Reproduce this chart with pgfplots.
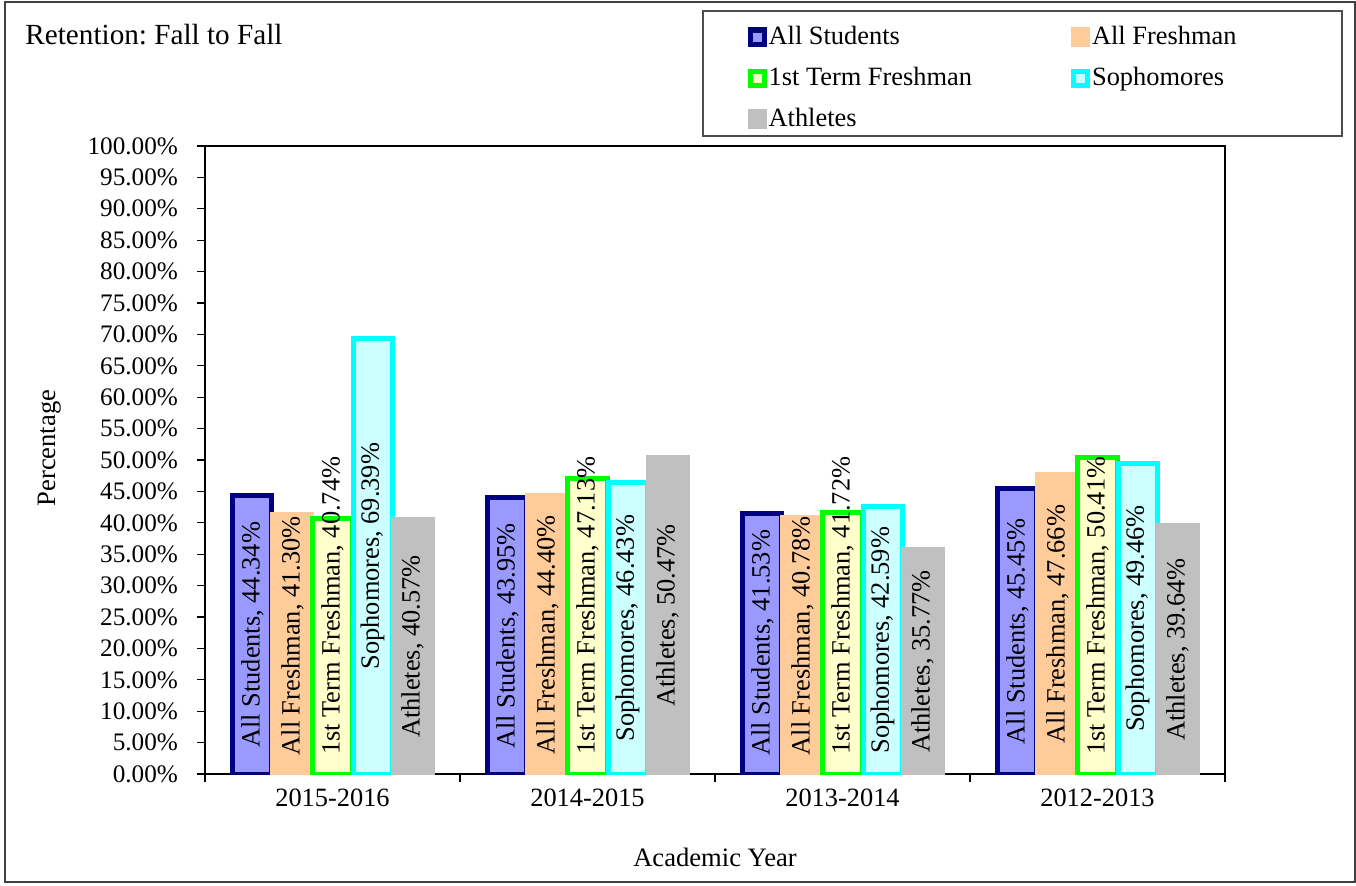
\documentclass[border=0pt]{standalone}
\usepackage{fontspec}
\setmainfont{Liberation Serif}
\usepackage{pgfplots}
\pgfplotsset{compat=1.18}
\frenchspacing
\definecolor{cNavy}{HTML}{000080}
\definecolor{cBlueFill}{HTML}{9999FF}
\definecolor{cPeach}{HTML}{FFCC99}
\definecolor{cGreen}{HTML}{00FF00}
\definecolor{cYellowFill}{HTML}{FFFFCC}
\definecolor{cCyan}{HTML}{00FFFF}
\definecolor{cCyanFill}{HTML}{CCFFFF}
\definecolor{cGray}{HTML}{C0C0C0}
\newcommand{\lab}[1]{#1, \pgfmathprintnumber[fixed,fixed zerofill,precision=2]{\pgfplotspointmeta}\%}
\begin{document}
\frenchspacing
\begin{tikzpicture}
\useasboundingbox (-102.5pt,-55.5pt) rectangle (575.5pt,387pt);
\draw[line width=1pt, black!75] (-100pt,-54pt) rectangle (575pt,386pt);
\node[anchor=base west, inner sep=0pt, font=\fontsize{14.6}{17}\selectfont] at (-90pt,364.5pt) {Retention: Fall to Fall};
\draw[line width=0.8pt, black!70] (248.85pt,319pt) rectangle (568.5pt,381.35pt);
\begin{axis}[
  at={(0pt,0pt)}, anchor=south west,
  scale only axis, width=510pt, height=314pt,
  ybar, bar width=0.153,
  xmin=-0.5, xmax=3.5, ymin=0, ymax=100,
  xtick={0,1,2,3},
  xticklabels={2015-2016,2014-2015,2013-2014,2012-2013},
  minor xtick={-0.5,0.5,1.5,2.5,3.5},
  ytick={0,5,...,100},
  xtick pos=bottom, ytick pos=left,
  scaled y ticks=false,
  /pgf/number format/assume math mode=true,
  yticklabel={\pgfmathprintnumber[fixed,fixed zerofill,precision=2]{\tick}\%},
  tick align=outside,
  major tick length=4pt, minor tick length=3.75pt,
  major x tick style={draw=none},
  tick style={black, line width=0.6pt},
  axis line style={black, line width=0.8pt},
  xticklabel style={font=\fontsize{13.2}{15}\selectfont},
  yticklabel style={font=\fontsize{12.6}{14}\selectfont, xshift=-6pt},
  xlabel={Academic Year}, ylabel={Percentage},
  label style={font=\fontsize{13.3}{16}\selectfont},
  xlabel style={at={(axis description cs:0.5,0)}, anchor=base, yshift=-46pt},
  ylabel style={at={(axis description cs:-0.152,0.519)}, anchor=center},
  every node near coord/.append style={text=black, font=\fontsize{13.2}{15}\selectfont},
  legend columns=2,
  legend cell align=left,
  legend image code/.code={\draw[#1] (0pt,-3.5pt) rectangle (7pt,3.5pt);},
  legend style={draw=none, fill=none, inner sep=0pt, outer sep=0pt,
    at={(axis description cs:0.532,1.2062)}, anchor=north west,
    font=\fontsize{13.2}{15}\selectfont,
    nodes={inner xsep=1pt, inner ysep=3.75pt, text height=10pt, text depth=3pt},
    /tikz/every even column/.append style={column sep=48.5pt}},
]
\addplot[fill=cBlueFill, draw=cNavy, line width=2.5pt, bar shift=-0.314,
  visualization depends on={y-max(y/2,20.9) \as \labdrop},
  nodes near coords={\lab{All Students}},
  every node near coord/.append style={shift={(axis direction cs:0,-\labdrop)}, rotate=90, anchor=center}]
  coordinates {(0,44.34) (1,43.95) (2,41.53) (3,45.45)};
\addplot[fill=cPeach, draw=cPeach, line width=2.5pt, bar shift=-0.157,
  visualization depends on={y-max(y/2,22.0) \as \labdrop},
  nodes near coords={\lab{All Freshman}},
  every node near coord/.append style={shift={(axis direction cs:0,-\labdrop)}, rotate=90, anchor=center}]
  coordinates {(0,41.30) (1,44.40) (2,40.78) (3,47.66)};
\addplot[fill=cYellowFill, draw=cGreen, line width=2.5pt, bar shift=0,
  visualization depends on={y-max(y/2,26.8) \as \labdrop},
  nodes near coords={\lab{1st Term Freshman}},
  every node near coord/.append style={shift={(axis direction cs:0,-\labdrop)}, rotate=90, anchor=center}]
  coordinates {(0,40.74) (1,47.13) (2,41.72) (3,50.41)};
\addplot[fill=cCyanFill, draw=cCyan, line width=2.5pt, bar shift=0.157,
  visualization depends on={y-max(y/2,21.0) \as \labdrop},
  nodes near coords={\lab{Sophomores}},
  every node near coord/.append style={shift={(axis direction cs:0,-\labdrop)}, rotate=90, anchor=center}]
  coordinates {(0,69.39) (1,46.43) (2,42.59) (3,49.46)};
\addplot[fill=cGray, draw=cGray, line width=2.5pt, bar shift=0.314,
  visualization depends on={y-max(y/2,17.5) \as \labdrop},
  nodes near coords={\lab{Athletes}},
  every node near coord/.append style={shift={(axis direction cs:0,-\labdrop)}, rotate=90, anchor=center}]
  coordinates {(0,40.57) (1,50.47) (2,35.77) (3,39.64)};
\legend{All Students, All Freshman, 1st Term Freshman, Sophomores, Athletes}
\end{axis}
\end{tikzpicture}
\end{document}
